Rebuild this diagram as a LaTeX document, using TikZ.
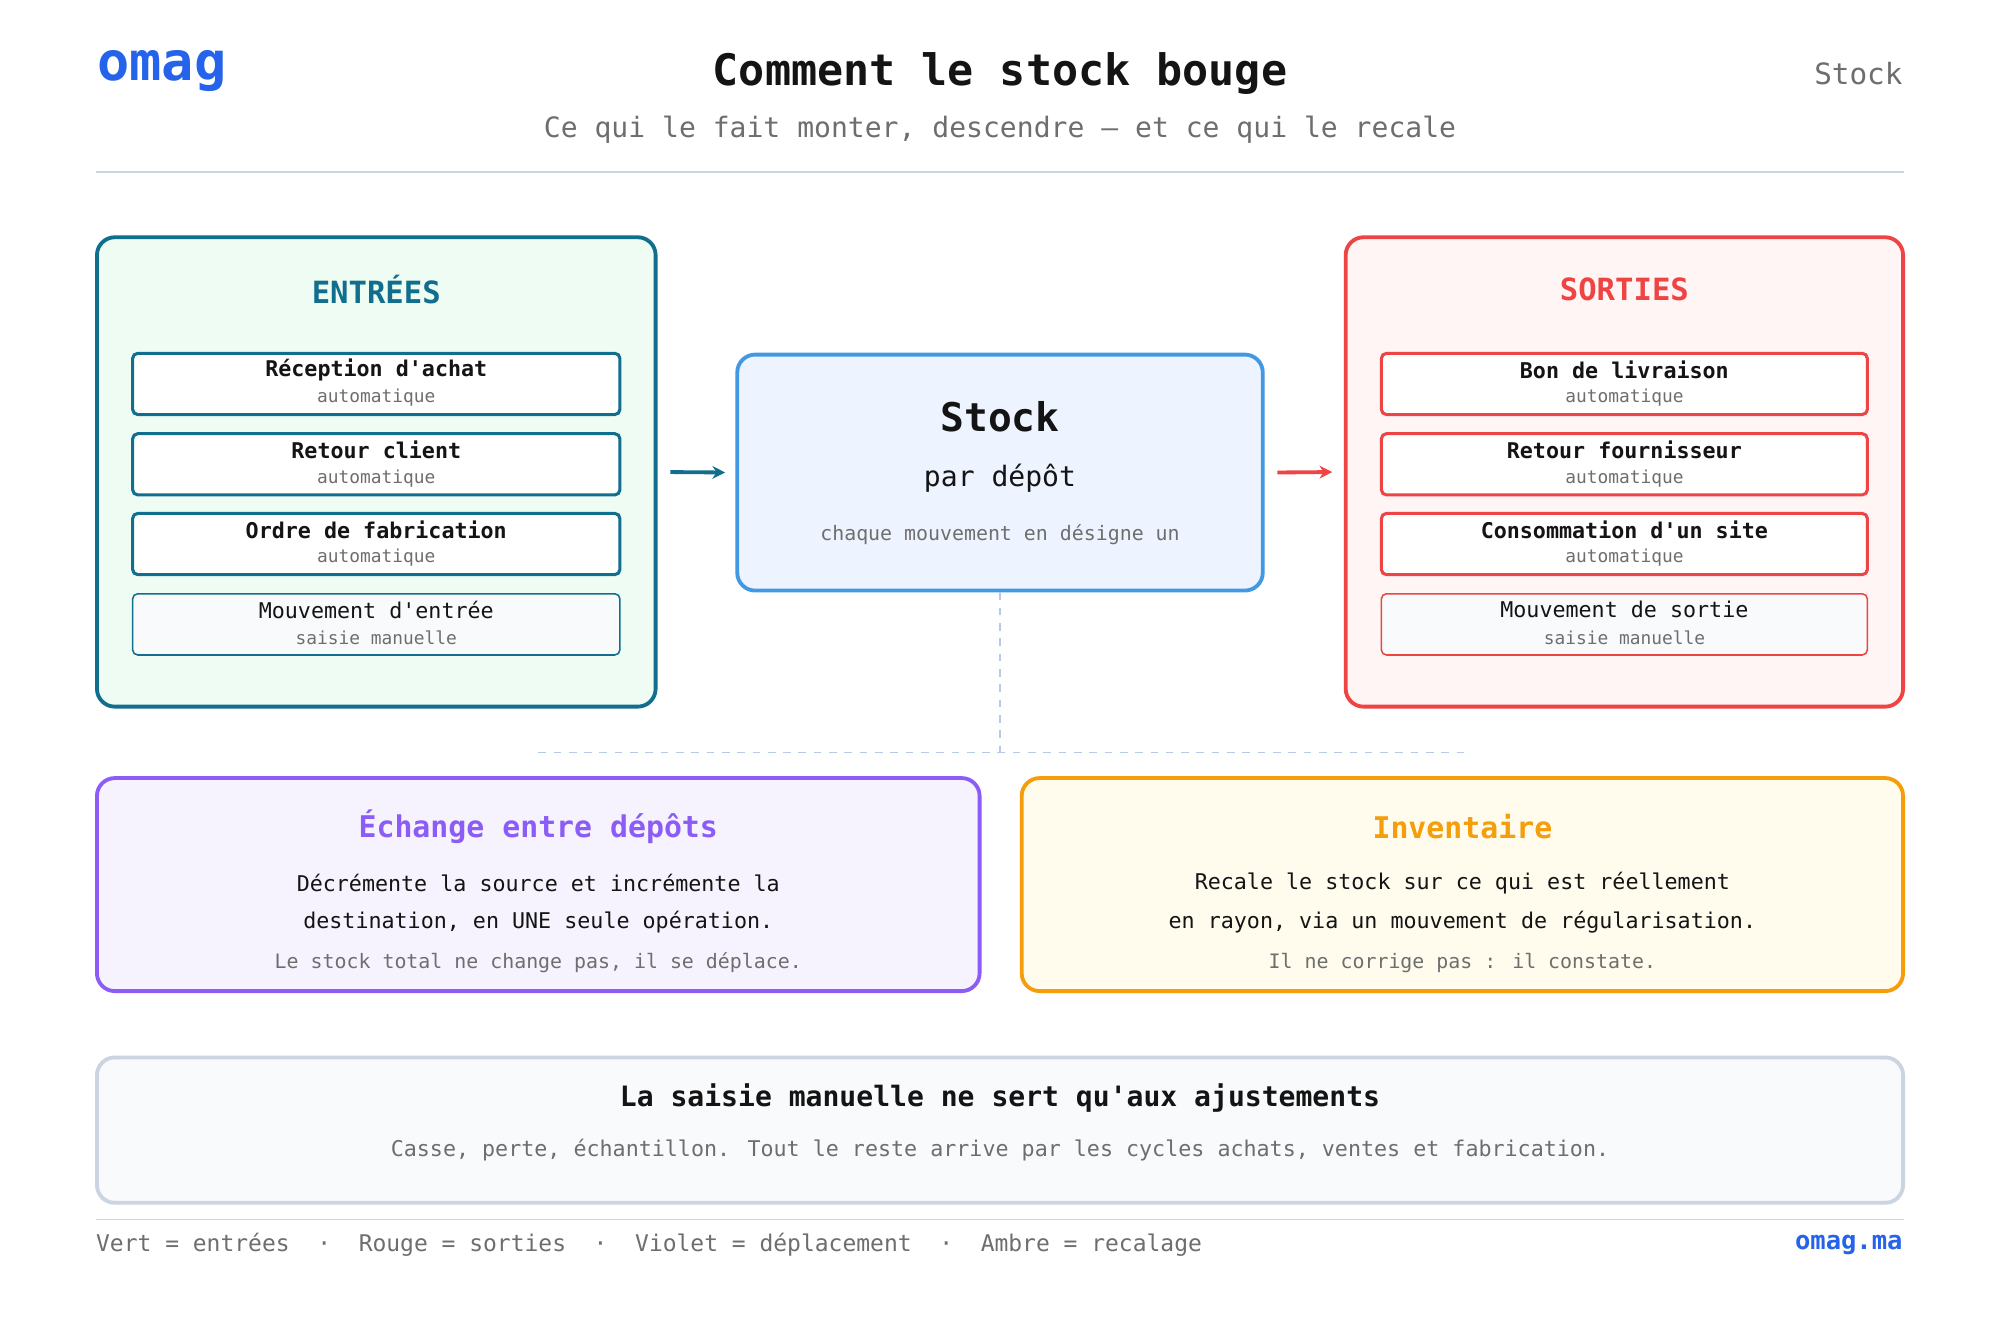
\documentclass[tikz,border=0pt]{standalone}
\usepackage{fontspec}
\setmainfont{DejaVu Sans Mono}
\usetikzlibrary{arrows.meta}
\definecolor{omagblue}{RGB}{37,99,235}
\definecolor{teal}{RGB}{17,110,140}
\definecolor{tealbg}{RGB}{239,252,244}
\definecolor{red}{RGB}{239,68,68}
\definecolor{redbg}{RGB}{255,245,245}
\definecolor{stockblue}{RGB}{66,153,225}
\definecolor{stockbg}{RGB}{238,244,255}
\definecolor{purple}{RGB}{139,92,246}
\definecolor{purplebg}{RGB}{246,243,255}
\definecolor{amber}{RGB}{245,158,11}
\definecolor{amberbg}{RGB}{255,252,238}
\definecolor{greyline}{RGB}{203,213,225}
\definecolor{greybg}{RGB}{249,250,251}
\definecolor{txt}{RGB}{20,20,20}
\definecolor{muted}{RGB}{110,110,110}
\definecolor{dashblue}{RGB}{184,200,232}
\newcommand{\q}{\textquotesingle}
\tikzset{
  panel/.style={draw, line width=1.5pt, rounded corners=7pt},
  item/.style={draw, line width=1.2pt, rounded corners=2pt, fill=white, minimum width=191pt, minimum height=24pt},
  manual/.style={item, line width=0.6pt, fill=greybg},
  lbl/.style={font=\fontsize{8.5}{10}\selectfont\bfseries, text=txt, inner sep=0pt},
  sub/.style={font=\fontsize{7}{8}\selectfont, text=muted, inner sep=0pt},
  body/.style={font=\fontsize{8.5}{10}\selectfont, text=txt, inner sep=0pt},
  flow/.style={-{Stealth[length=5pt,width=5pt]}, line width=1.5pt},
}
\begin{document}
\begin{tikzpicture}[x=0.5pt,y=-0.5pt]
\useasboundingbox[fill=white] (0,0) rectangle (1568,1035);

% header
\node[anchor=west, inner sep=0pt, font=\fontsize{21}{24}\selectfont\bfseries, text=omagblue] (logo) at (76,56) {omag};
\node[inner sep=0pt, font=\fontsize{17}{20}\selectfont\bfseries, text=txt] (title) at (784,58) {Comment le stock bouge};
\node[inner sep=0pt, font=\fontsize{11}{13}\selectfont, text=muted] (subtitle) at (784,102) {Ce qui le fait monter, descendre — et ce qui le recale};
\node[anchor=east, inner sep=0pt, font=\fontsize{11.5}{13}\selectfont, text=muted] (tag) at (1492,58) {Stock};
\draw[greyline, line width=0.6pt] (75,135) -- (1493,135);

% entrees
\node[panel, draw=teal, fill=tealbg, minimum width=219pt, minimum height=184pt] (entrees) at (295,370) {};
\node[inner sep=0pt, font=\fontsize{12}{14}\selectfont\bfseries, text=teal] at (295,227) {ENTRÉES};
\node[item, draw=teal] (e1) at (295,301) {};
\node[item, draw=teal] (e2) at (295,364) {};
\node[item, draw=teal] (e3) at (295,426.5) {};
\node[manual, draw=teal] (e4) at (295,489.5) {};
\node[lbl] at (295,290) {Réception d\q achat};
\node[sub] at (295,312) {automatique};
\node[lbl] at (295,353) {Retour client};
\node[sub] at (295,375) {automatique};
\node[lbl] at (295,415) {Ordre de fabrication};
\node[sub] at (295,437) {automatique};
\node[body] at (295,478) {Mouvement d\q entrée};
\node[sub] at (295,500) {saisie manuelle};

% stock
\node[panel, draw=stockblue, fill=stockbg, minimum width=206pt, minimum height=92.5pt] (stock) at (784,370.5) {};
\node[inner sep=0pt, font=\fontsize{15.5}{18}\selectfont\bfseries, text=txt] at (784,327) {Stock};
\node[inner sep=0pt, font=\fontsize{11}{13}\selectfont, text=txt] at (784,375) {par dépôt};
\node[inner sep=0pt, font=\fontsize{7.8}{9}\selectfont, text=muted] at (784,419) {chaque mouvement en désigne un};

% sorties
\node[panel, draw=red, fill=redbg, minimum width=218.5pt, minimum height=184pt] (sorties) at (1273.5,370) {};
\node[inner sep=0pt, font=\fontsize{12}{14}\selectfont\bfseries, text=red] at (1273.5,227) {SORTIES};
\node[item, draw=red, minimum width=190.5pt] (s1) at (1273.5,301) {};
\node[item, draw=red, minimum width=190.5pt] (s2) at (1273.5,364) {};
\node[item, draw=red, minimum width=190.5pt] (s3) at (1273.5,426.5) {};
\node[manual, draw=red, minimum width=190.5pt] (s4) at (1273.5,489.5) {};
\node[lbl] at (1273.5,290) {Bon de livraison};
\node[sub] at (1273.5,312) {automatique};
\node[lbl] at (1273.5,353) {Retour fournisseur};
\node[sub] at (1273.5,375) {automatique};
\node[lbl] at (1273.5,415) {Consommation d\q un site};
\node[sub] at (1273.5,437) {automatique};
\node[body] at (1273.5,478) {Mouvement de sortie};
\node[sub] at (1273.5,500) {saisie manuelle};

% flows
\draw[flow, teal, shorten <=5pt, shorten >=4pt] (entrees.east) -- (stock.west);
\draw[flow, red, shorten <=5pt, shorten >=4.5pt] (stock.east) -- (sorties.west);

% dashed link
\coordinate (split) at (784,590);
\coordinate (dl) at (422,590);
\coordinate (dr) at (1148,590);
\draw[dashblue, dashed, line width=0.6pt] (stock.south) -- (split);
\draw[dashblue, dashed, line width=0.6pt] (dl) -- (dr);

% echange
\node[panel, draw=purple, fill=purplebg, minimum width=346pt, minimum height=83.5pt] (echange) at (422,693.5) {};
\node[inner sep=0pt, font=\fontsize{11.7}{14}\selectfont\bfseries, text=purple] at (422,648) {Échange entre dépôts};
\node[body] at (422,692) {Décrémente la source et incrémente la};
\node[body] at (422,723) {destination, en UNE seule opération.};
\node[inner sep=0pt, font=\fontsize{7.8}{9}\selectfont, text=muted] at (422,755) {Le stock total ne change pas, il se déplace.};

% inventaire
\node[panel, draw=amber, fill=amberbg, minimum width=345.5pt, minimum height=83.5pt] (inventaire) at (1146.5,693.5) {};
\node[inner sep=0pt, font=\fontsize{11.7}{14}\selectfont\bfseries, text=amber] at (1146.5,648) {Inventaire};
\node[body] at (1146.5,692) {Recale le stock sur ce qui est réellement};
\node[body] at (1146.5,723) {en rayon, via un mouvement de régularisation.};
\node[inner sep=0pt, font=\fontsize{7.8}{9}\selectfont, text=muted] at (1146.5,755) {Il ne corrige pas : il constate.};

% note
\node[panel, draw=greyline, fill=greybg, minimum width=708pt, minimum height=57pt] (note) at (784,886) {};
\node[inner sep=0pt, font=\fontsize{11}{13}\selectfont\bfseries, text=txt] at (784,861) {La saisie manuelle ne sert qu\q aux ajustements};
\node[inner sep=0pt, font=\fontsize{8.5}{10}\selectfont, text=muted] at (784,902) {Casse, perte, échantillon. Tout le reste arrive par les cycles achats, ventes et fabrication.};

% footer
\draw[greyline, line width=0.6pt] (75,956) -- (1493,956);
\node[anchor=west, inner sep=0pt, font=\fontsize{9}{11}\selectfont, text=muted] (legend) at (75,976) {Vert = entrées~~·~~Rouge = sorties~~·~~Violet = déplacement~~·~~Ambre = recalage};
\node[anchor=east, inner sep=0pt, font=\fontsize{10}{12}\selectfont\bfseries, text=omagblue] (site) at (1492,976) {omag.ma};
\end{tikzpicture}
\end{document}
